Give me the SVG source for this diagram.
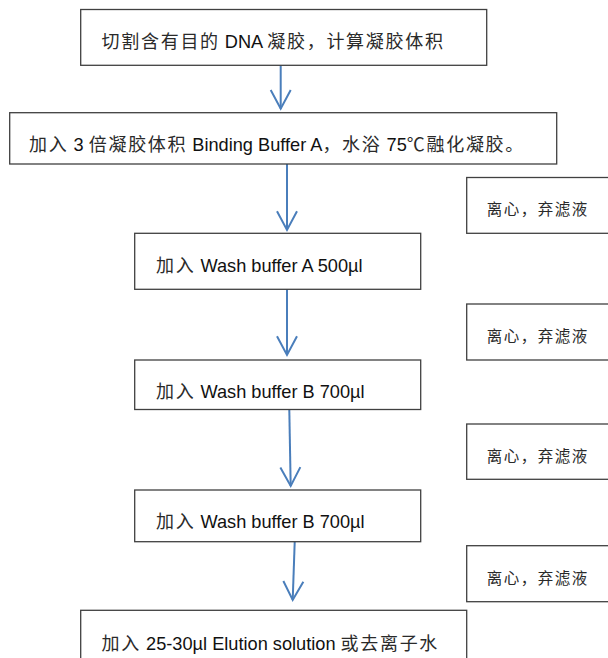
<svg xmlns="http://www.w3.org/2000/svg" width="608" height="658" viewBox="0 0 608 658">
<style>
.box{fill:#fff;stroke:#404040;stroke-width:1.3}
.t{font-family:"Liberation Sans",Arial,sans-serif;font-size:18.2px;fill:#111}
.c{font-family:"Noto Sans CJK SC","Noto Sans",sans-serif;font-size:18px;letter-spacing:1.7px;fill:#2a2a2a}
.s{font-family:"Noto Sans CJK SC","Noto Sans",sans-serif;font-size:15.5px;letter-spacing:1.5px;fill:#2a2a2a}
.arr{fill:none;stroke:#4A7EBB;stroke-width:2;marker-end:url(#head)}
</style>
<defs>
<marker id="head" markerUnits="userSpaceOnUse" markerWidth="24" markerHeight="24" viewBox="-20 -12 22 24" refX="0" refY="0" orient="auto">
<path d="M-18.7,-10 L0,0 L-18.7,10" fill="none" stroke="#4A7EBB" stroke-width="2"/>
</marker>
</defs>
<rect width="608" height="658" fill="#fff"/>
<g id="connectors">
<line class="arr" x1="280.7" y1="65" x2="280.7" y2="108.7"/>
<line class="arr" x1="287" y1="164" x2="287" y2="230"/>
<line class="arr" x1="287" y1="289" x2="287" y2="355"/>
<line class="arr" x1="289.3" y1="410" x2="290.7" y2="486"/>
<line class="arr" x1="294.7" y1="542" x2="292.7" y2="600"/>
</g>
<g id="n1">
<rect class="box" x="80.7" y="9.5" width="406" height="55.8"/>
<text class="t" x="101.6" y="48" xml:space="preserve"><tspan class="c">切割含有目的</tspan> DNA <tspan class="c">凝胶，计算凝胶体积</tspan></text>
</g>
<g id="n2">
<rect class="box" x="9.7" y="112.7" width="547" height="51.3"/>
<text class="t" x="29.1" y="151" xml:space="preserve"><tspan class="c">加入</tspan> 3 <tspan class="c">倍凝胶体积</tspan> Binding Buffer A<tspan class="c">，水浴</tspan> 75<tspan class="c">℃融化凝胶。</tspan></text>
</g>
<g id="n3">
<rect class="box" x="134.7" y="233.3" width="286" height="56"/>
<text class="t" x="156" y="271.5" xml:space="preserve"><tspan class="c">加入</tspan> Wash buffer A 500µl</text>
</g>
<g id="n4">
<rect class="box" x="134.7" y="360" width="286" height="49.5"/>
<text class="t" x="156" y="397.5" xml:space="preserve"><tspan class="c">加入</tspan> Wash buffer B 700µl</text>
</g>
<g id="n5">
<rect class="box" x="134.7" y="490" width="286" height="51.7"/>
<text class="t" x="156" y="528.3" xml:space="preserve"><tspan class="c">加入</tspan> Wash buffer B 700µl</text>
</g>
<g id="n6">
<rect class="box" x="80.7" y="610.3" width="386" height="60"/>
<text class="t" x="101.6" y="650" xml:space="preserve"><tspan class="c">加入</tspan> 25-30µl Elution solution <tspan class="c">或去离子水</tspan></text>
</g>
<g id="s1">
<rect class="box" x="466.7" y="177.5" width="150" height="55.8"/>
<text class="s" x="486.7" y="215">离心，弃滤液</text>
</g>
<g id="s2">
<rect class="box" x="466.7" y="304" width="150" height="56"/>
<text class="s" x="486.7" y="341.5">离心，弃滤液</text>
</g>
<g id="s3">
<rect class="box" x="466.7" y="424" width="150" height="55.3"/>
<text class="s" x="486.7" y="462">离心，弃滤液</text>
</g>
<g id="s4">
<rect class="box" x="466.7" y="545.7" width="150" height="56"/>
<text class="s" x="486.7" y="584">离心，弃滤液</text>
</g>
</svg>
